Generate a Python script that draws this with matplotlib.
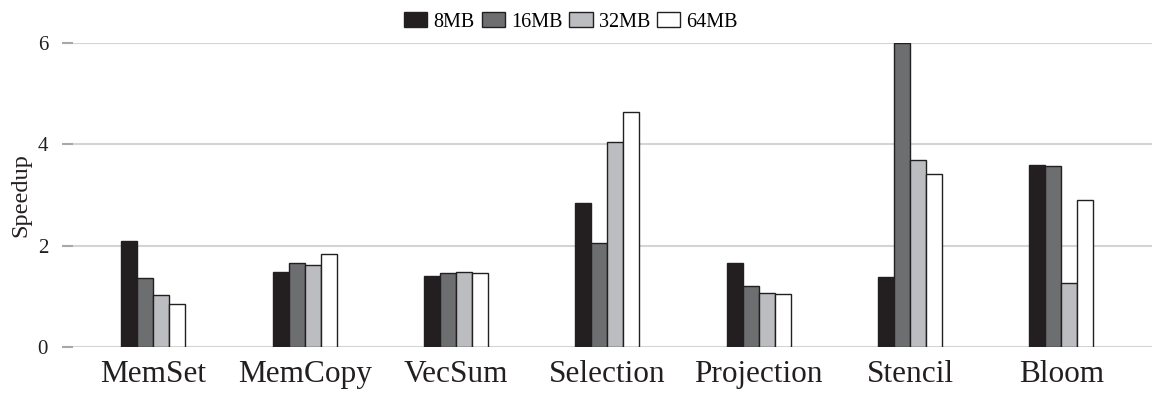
import numpy as np
import matplotlib
matplotlib.use("Agg")
import matplotlib.pyplot as plt

plt.rcParams["font.family"] = ["Liberation Serif", "DejaVu Serif"]

benchmarks = ["MemSet", "MemCopy", "VecSum", "Selection", "Projection", "Stencil", "Bloom"]
sizes = ["8MB", "16MB", "32MB", "64MB"]
speedup_8mb = [2.10, 1.49, 1.40, 2.85, 1.65, 1.39, 3.59]
speedup_16mb = [1.36, 1.65, 1.47, 2.06, 1.20, 6.00, 3.57]
speedup_32mb = [1.03, 1.62, 1.48, 4.04, 1.07, 3.69, 1.26]
speedup_64mb = [0.85, 1.83, 1.47, 4.64, 1.04, 3.41, 2.91]
yticks = [0, 2, 4, 6]

series = [speedup_8mb, speedup_16mb, speedup_32mb, speedup_64mb]
fills = ["#231f20", "#6d6e70", "#bcbdc0", "#ffffff"]

fig = plt.figure(figsize=(11.61, 3.99), dpi=100)
ax = fig.add_axes([0.0534, 0.1303, 0.9388, 0.7617])

x = np.arange(len(benchmarks))
width = 0.1057
for i, (vals, col, lab) in enumerate(zip(series, fills, sizes)):
    ax.bar(x + (i - 1.5) * width, vals, width, color=col, edgecolor="#231f20",
           linewidth=1.0, label=lab, zorder=3)

ax.set_xlim(-0.603, len(benchmarks) - 1 + 0.599)
ax.set_ylim(0, 6)
ax.set_yticks(yticks)
ax.set_yticklabels([str(t) for t in yticks], fontsize=15, color="#231f20")
ax.set_xticks(x)
ax.set_xticklabels(benchmarks, fontsize=22.5, color="#231f20")
ax.tick_params(axis="x", length=0, pad=9)
ax.tick_params(axis="y", direction="in", length=8, width=1.5, color="#a8a8a8", pad=10)
ax.yaxis.grid(True, color="#d4d4d4", linewidth=1.5, zorder=0)
ax.set_axisbelow(True)
for s in ax.spines.values():
    s.set_visible(False)

fig.text(21 / 1161, 1 - 195 / 399, "Speedup", rotation=90, ha="center", va="center",
         fontsize=17.5, color="#231f20")

fig.legend(loc="center", bbox_to_anchor=(571 / 1161, 1 - 22 / 399), ncol=4,
           frameon=False, fontsize=14.5, handlelength=1.15, handleheight=0.75,
           handletextpad=0.3, columnspacing=0.35, borderpad=0)

fig.savefig("out.png", dpi=100)
